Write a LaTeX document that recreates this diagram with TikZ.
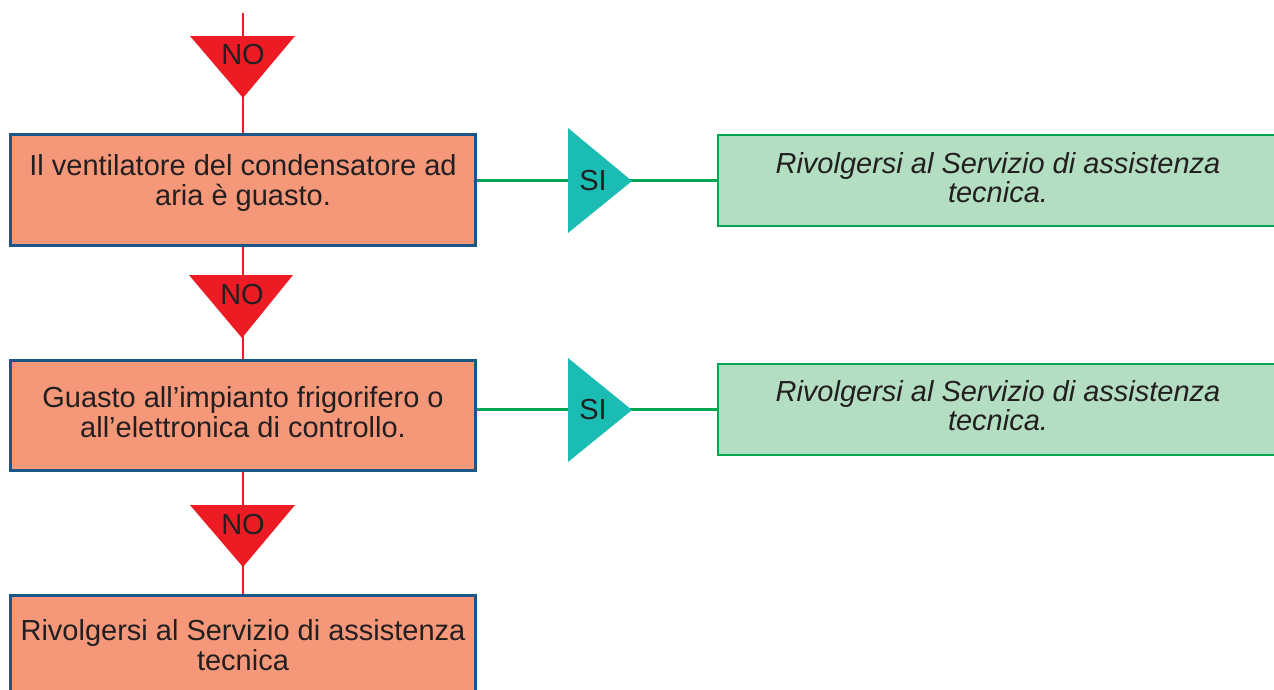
\documentclass[tikz,border=0pt]{standalone}
\usepackage{fontspec}
\setmainfont{Liberation Sans}
\definecolor{nored}{HTML}{ED1C24}
\definecolor{salmon}{HTML}{F5987A}
\definecolor{boxblue}{HTML}{1B5689}
\definecolor{siteal}{HTML}{1BBCB4}
\definecolor{sigreen}{HTML}{00A651}
\definecolor{greenfill}{HTML}{B4DEC2}
\definecolor{txtcol}{HTML}{231F20}
\begin{document}
\begin{tikzpicture}[x=1pt,y=-1pt,
  obox/.style={draw=boxblue, line width=3pt, fill=salmon, minimum width=465pt, inner sep=0pt},
  gbox/.style={draw=sigreen, line width=2.5pt, fill=greenfill, minimum width=561pt, minimum height=91pt, inner sep=0pt},
  txt/.style={font=\fontsize{29}{30}\selectfont, text=txtcol, align=center, inner sep=0pt},
  itxt/.style={txt, font=\fontsize{29}{29}\selectfont\itshape},
  redline/.style={draw=nored, line width=2.5pt},
  greenline/.style={draw=sigreen, line width=2.5pt},
  notri/.style={fill=nored},
  sitri/.style={fill=siteal}]
\useasboundingbox (0,0) rectangle (1274,689);
\clip (0,0) rectangle (1274,689);

% boxes
\node[obox, minimum height=111pt] (box1) at (243,190) {};
\node[obox, minimum height=110pt] (box2) at (243,415.5) {};
\node[obox, minimum height=124pt] (box3) at (243,657.5) {};
\node[gbox] (g1) at (998.5,180.5) {};
\node[gbox] (g2) at (998.5,409.5) {};

% texts
\node[txt] (t1) at (243,183) {Il ventilatore del condensatore ad\\aria è guasto.};
\node[txt] (t2) at (243,412) {Guasto all’impianto frigorifero o\\all’elettronica di controllo.};
\node[txt] (t3) at (243,645) {Rivolgersi al Servizio di assistenza\\tecnica};
\node[itxt] (gt1) at (998,178) {Rivolgersi al Servizio di assistenza\\tecnica.};
\node[itxt] (gt2) at (998,406) {Rivolgersi al Servizio di assistenza\\tecnica.};

% red connectors
\coordinate (start) at (243,13);
\draw[redline] (start) -- (box1.north);
\draw[redline] (box1.south) -- (box2.north);
\draw[redline] (box2.south) -- (box3.north);

% green connectors
\draw[greenline] (g1.west -| box1.east) -- (g1.west);
\draw[greenline] (g2.west -| box2.east) -- (g2.west);

% NO triangles
\fill[notri] (190,36) -- (295,36) -- (243,98) -- cycle;
\node[txt] (no1) at (243,55) {NO};
\fill[notri] (189,275) -- (293,275) -- (242,338) -- cycle;
\node[txt] (no2) at (242,295) {NO};
\fill[notri] (190,505) -- (295,505) -- (243,567) -- cycle;
\node[txt] (no3) at (243,525) {NO};

% SI triangles
\fill[sitri] (568,128) -- (568,233) -- (632,181) -- cycle;
\node[txt] (si1) at (593,181) {SI};
\fill[sitri] (568,358) -- (568,462) -- (632,410) -- cycle;
\node[txt] (si2) at (593,410) {SI};
\end{tikzpicture}
\end{document}
